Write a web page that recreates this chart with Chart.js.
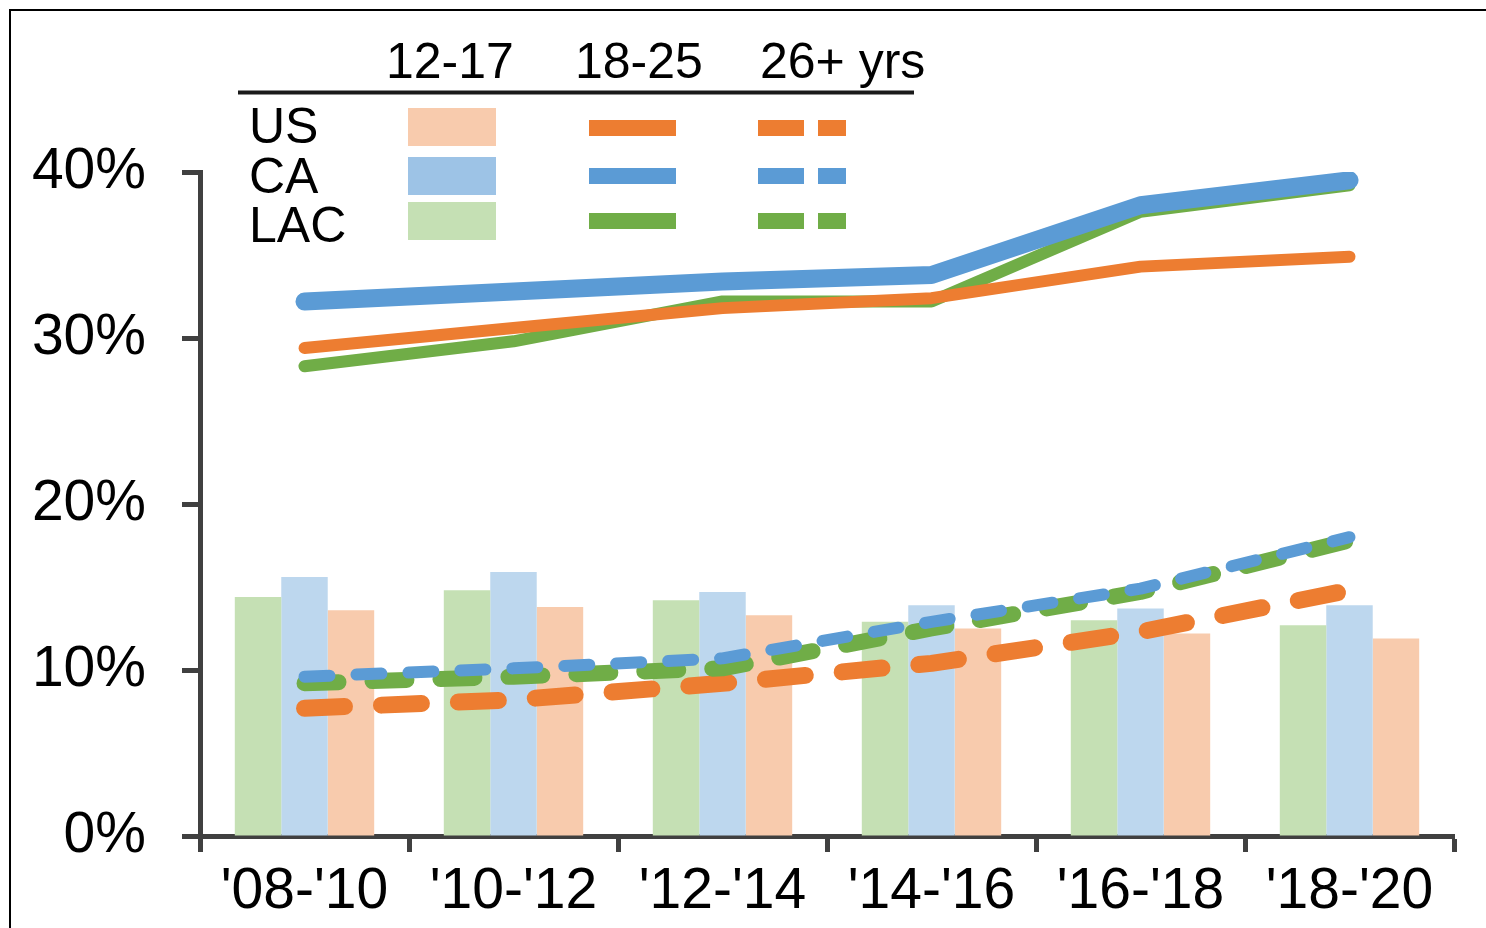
<!DOCTYPE html>
<html lang="en">
<head>
    <meta charset="UTF-8">
    <title>Usage by age group</title>
    <!-- Chart.js from CDN -->
    <script src="https://cdn.jsdelivr.net/npm/chart.js@4.4.1/dist/chart.umd.min.js"></script>
    <style>
        body { margin: 0; background: #fff; }
        #wrap { width: 1486px; height: 928px; }
    </style>
</head>
<body>
    <div id="wrap"><canvas id="chart" width="1486" height="928"></canvas></div>

    <script>
        // periods on the x axis
        const periods = ["'08-'10", "'10-'12", "'12-'14", "'14-'16", "'16-'18", "'18-'20"];

        // 12-17 yrs (bars)
        const lac1217 = [14.4, 14.8, 14.2, 12.9, 13.0, 12.7];
        const ca1217  = [15.6, 15.9, 14.7, 13.9, 13.7, 13.9];
        const us1217  = [13.6, 13.8, 13.3, 12.5, 12.2, 11.9];

        // 18-25 yrs (solid lines)
        const us1825  = [29.4, 30.6, 31.8, 32.4, 34.3, 34.9];
        const ca1825  = [32.2, 32.8, 33.4, 33.8, 38.0, 39.5];
        const lac1825 = [28.3, 29.8, 32.2, 32.2, 37.6, 39.2];

        // 26+ yrs (dashed lines)
        const us26  = [7.7, 8.2, 9.2, 10.4, 12.3, 14.8];
        const ca26  = [9.6, 10.1, 10.7, 12.9, 14.9, 18.0];
        const lac26 = [9.2, 9.6, 10.1, 12.5, 14.7, 17.8];

        const yTicks = [0, 10, 20, 30, 40];
        const ageGroups = ['12-17', '18-25', '26+ yrs'];
        const regions = ['US', 'CA', 'LAC'];

        // colours
        const orange = '#ED7D31', blue = '#5B9BD5', green = '#70AD47';
        const orangeLight = '#F8CBAD', blueLight = '#BDD7EE', greenLight = '#C5E0B4';
        const axisColor = '#404040';
        const font = "'Liberation Sans', Arial, sans-serif";

        // draws the table-like legend and the frame
        const legendTable = {
            id: 'legendTable',
            afterDraw(chart) {
                const ctx = chart.ctx;
                ctx.save();
                // frame (top + left edge)
                ctx.strokeStyle = '#000';
                ctx.lineWidth = 2;
                ctx.beginPath();
                ctx.moveTo(10, 928);
                ctx.lineTo(10, 10);
                ctx.lineTo(1486, 10);
                ctx.stroke();

                ctx.fillStyle = '#000';
                ctx.font = '50px ' + font;
                ctx.textBaseline = 'alphabetic';
                ctx.textAlign = 'left';
                const headX = [386, 575, 760];
                ageGroups.forEach((g, i) => ctx.fillText(g, headX[i], 78));

                // underline
                ctx.strokeStyle = '#1a1a1a';
                ctx.lineWidth = 4;
                ctx.beginPath();
                ctx.moveTo(238, 92.5);
                ctx.lineTo(914, 92.5);
                ctx.stroke();

                const rowBase = [143, 193, 242];
                const rowMid = [128, 176, 221];
                const barCols = [orangeLight, '#9DC3E6', greenLight];
                const lineCols = [orange, blue, green];
                regions.forEach((r, i) => {
                    ctx.fillStyle = '#000';
                    ctx.fillText(r, 249, rowBase[i]);
                    ctx.fillStyle = barCols[i];
                    ctx.fillRect(408, rowMid[i] - 19 + (i === 0 ? -1 : 0), 88, 38);
                    ctx.fillStyle = lineCols[i];
                    ctx.fillRect(589, rowMid[i] - 8, 87, 16);
                    ctx.fillRect(758, rowMid[i] - 8, 46, 16);
                    ctx.fillRect(818, rowMid[i] - 8, 28, 16);
                });
                ctx.restore();
            }
        };

        function barSet(label, data, color) {
            return { type: 'bar', label, data, backgroundColor: color, order: 100,
                     barPercentage: 1.0, categoryPercentage: 0.667 };
        }
        function lineSet(label, data, color, width, dash, order) {
            return { type: 'line', label, data, borderColor: color, borderWidth: width,
                     borderDash: dash, borderCapStyle: 'round', borderJoinStyle: 'round',
                     pointRadius: 0, fill: false, tension: 0, order };
        }

        const ctx = document.getElementById('chart').getContext('2d');
        new Chart(ctx, {
            data: {
                labels: periods,
                datasets: [
                    barSet('LAC 12-17', lac1217, greenLight),
                    barSet('CA 12-17', ca1217, blueLight),
                    barSet('US 12-17', us1217, orangeLight),
                    lineSet('US 26+', us26, orange, 17, [40, 37], 20),
                    lineSet('LAC 26+', lac26, green, 16, [34, 34], 15),
                    lineSet('CA 26+', ca26, blue, 12, [25, 27], 10),
                    lineSet('LAC 18-25', lac1825, green, 12, [], 8),
                    lineSet('US 18-25', us1825, orange, 12, [], 6),
                    lineSet('CA 18-25', ca1825, blue, 18, [], 4)
                ]
            },
            options: {
                responsive: false,
                animation: false,
                layout: { padding: { left: 0, top: 172, right: 32, bottom: 0 } },
                plugins: { legend: { display: false }, tooltip: { enabled: false } },
                scales: {
                    x: {
                        offset: true,
                        grid: { offset: true, drawOnChartArea: false, tickLength: 16,
                                tickColor: axisColor, tickWidth: 5 },
                        border: { display: true, color: axisColor, width: 5 },
                        ticks: { color: '#000', font: { family: font, size: 57 }, padding: 6,
                                 maxRotation: 0, autoSkip: false },
                        afterFit(scale) { scale.height = 92; }
                    },
                    y: {
                        min: 0, max: 40,
                        afterBuildTicks(scale) { scale.ticks = yTicks.map(v => ({ value: v })); },
                        grid: { drawOnChartArea: false, tickLength: 18,
                                tickColor: axisColor, tickWidth: 5 },
                        border: { display: true, color: axisColor, width: 5 },
                        ticks: { color: '#000', font: { family: font, size: 57 }, padding: 36,
                                 callback: v => v + '%' },
                        afterFit(scale) { scale.width = 200; }
                    }
                }
            },
            plugins: [legendTable]
        });
    </script>
</body>
</html>
